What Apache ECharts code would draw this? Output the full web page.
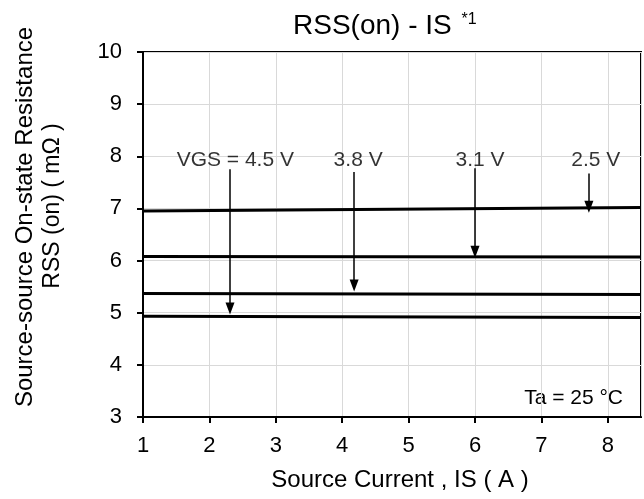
<!DOCTYPE html>
<html>
<head>
<meta charset="utf-8">
<script src="https://cdn.jsdelivr.net/npm/echarts@6/dist/echarts.min.js"></script>
<style>
  html, body { margin: 0; padding: 0; background: #fff; }
  #chart { width: 644px; height: 499px; }
</style>
</head>
<body>
<div id="chart"></div>
<script>
// Source current (A) at the two ends of each curve
const currents = [1, 8.5];

// On-state resistance (mΩ) per gate voltage
const rss25 = [6.95, 7.02];
const rss31 = [6.08, 6.07];
const rss38 = [5.37, 5.35];
const rss45 = [4.93, 4.91];

// Annotation arrows: x position, start y, end y
const arrowX = [7.715, 6.00, 4.18, 2.31];
const arrowTop = [7.67, 7.77, 7.70, 7.75];
const arrowEnd = [7.03, 6.17, 5.52, 5.08];
// Annotation texts and their anchor points
const noteTexts = ['2.5 V', '3.1 V', '3.8 V', 'VGS = 4.5 V'];
const noteX = [7.82, 6.075, 4.24, 2.39];
const noteY = [7.92, 7.92, 7.92, 7.92];

const xTicks = [1, 2, 3, 4, 5, 6, 7, 8];
const yTicks = [3, 4, 5, 6, 7, 8, 9, 10];

const FONT = 'Liberation Sans, Arial, sans-serif';
const chart = echarts.init(document.getElementById('chart'), null, { renderer: 'canvas' });

function curve(values) {
  return {
    type: 'line',
    data: currents.map((c, i) => [c, values[i]]),
    showSymbol: false,
    lineStyle: { color: '#000', width: 3 },
    silent: true,
    z: 3
  };
}

const arrowLines = arrowX.map((x, i) => [
  { coord: [x, arrowTop[i]] },
  { coord: [x, arrowEnd[i]] }
]);

const option = {
  animation: false,
  backgroundColor: '#fff',
  title: {
    text: 'RSS(on) - IS {sup|*1}',
    left: 288,
    top: 7,
    textStyle: {
      fontFamily: FONT, fontSize: 28, fontWeight: 'normal', color: '#000',
      rich: { sup: { fontFamily: FONT, fontSize: 16, color: '#000', verticalAlign: 'top', padding: [0, 0, 12, 2] } }
    }
  },
  grid: {
    left: 143, right: 3, top: 52, bottom: 82,
    show: true, borderColor: '#000', borderWidth: 2, backgroundColor: 'transparent'
  },
  xAxis: {
    type: 'value', min: xTicks[0], max: 8.5, interval: 1,
    axisLine: { show: true, lineStyle: { color: '#000', width: 2 } },
    axisTick: { show: true, length: 6, lineStyle: { color: '#000', width: 2 } },
    axisLabel: { showMaxLabel: false, fontFamily: FONT, fontSize: 22, color: '#000', margin: 18 },
    splitLine: { show: true, lineStyle: { color: '#d9d9d9', width: 1 } },
    name: 'Source Current , IS ( A )',
    nameLocation: 'middle', nameGap: 51,
    nameTextStyle: { fontFamily: FONT, fontSize: 24, color: '#000', padding: [0, 0, 0, 16] }
  },
  yAxis: {
    type: 'value', min: yTicks[0], max: yTicks[yTicks.length - 1], interval: 1,
    axisLine: { show: true, lineStyle: { color: '#000', width: 2 } },
    axisTick: { show: true, length: 6, lineStyle: { color: '#000', width: 2 } },
    axisLabel: { fontFamily: FONT, fontSize: 22, color: '#000', margin: 21 },
    splitLine: { show: true, lineStyle: { color: '#d9d9d9', width: 1 } }
  },
  graphic: [
    {
      type: 'text', x: 25, y: 217, rotation: Math.PI / 2,
      style: {
        text: 'Source-source On-state Resistance',
        font: '24px ' + FONT, fill: '#000', align: 'center', verticalAlign: 'middle'
      }
    },
    {
      type: 'text', x: 53, y: 206, rotation: Math.PI / 2,
      style: {
        text: 'RSS (on) ( mΩ )',
        font: '23px ' + FONT, fill: '#000', align: 'center', verticalAlign: 'middle'
      }
    },
    {
      type: 'text', x: 623, y: 398,
      style: { text: 'Ta = 25 °C', font: '21px ' + FONT, fill: '#000', align: 'right', verticalAlign: 'middle' }
    }
  ],
  series: [
    curve(rss25), curve(rss31), curve(rss38), curve(rss45),
    {
      type: 'line',
      data: [],
      silent: true,
      markLine: {
        silent: true,
        symbol: ['none', 'triangle'],
        symbolSize: [9, 12],
        label: { show: false },
        lineStyle: { color: '#000', width: 1.5, type: 'solid' },
        data: arrowLines,
        animation: false
      }
    },
    {
      type: 'scatter',
      symbolSize: 0,
      silent: true,
      data: noteX.map((x, i) => ({ value: [x, noteY[i]], name: noteTexts[i] })),
      label: {
        show: true, position: 'inside', formatter: p => p.name,
        fontFamily: FONT, fontSize: 21, color: '#000', textBorderWidth: 0
      },
      z: 5
    }
  ]
};
chart.setOption(option);
</script>
</body>
</html>
